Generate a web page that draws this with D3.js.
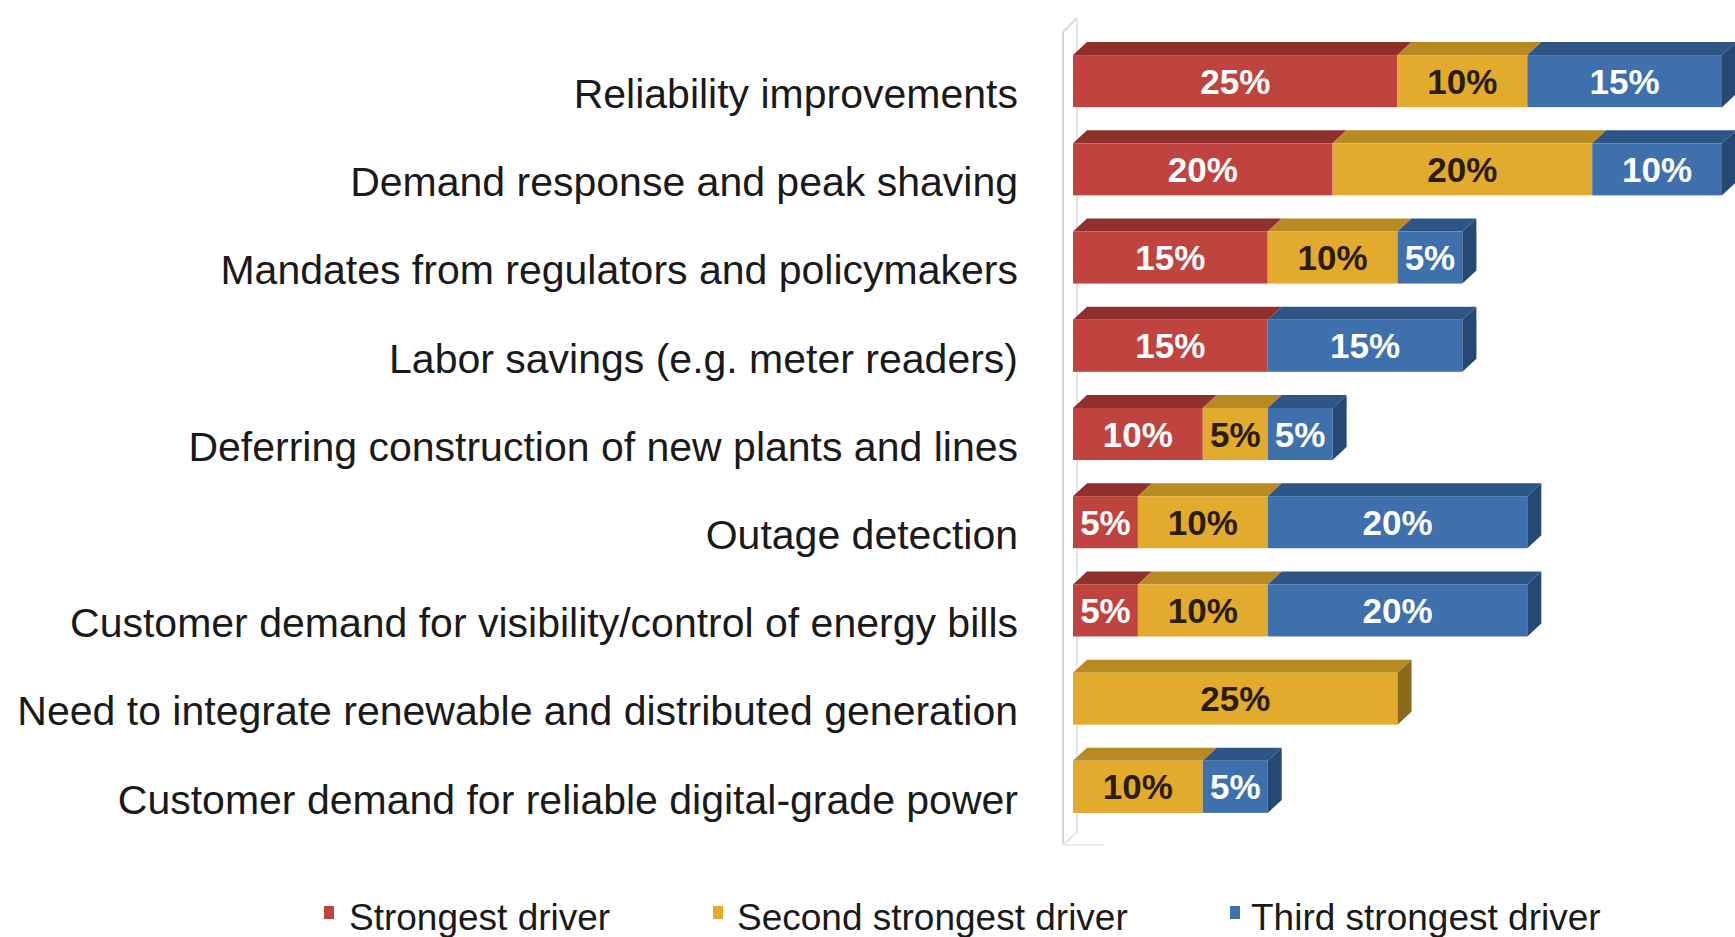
<!DOCTYPE html>
<html>
<head>
<meta charset="utf-8">
<script src="https://cdn.jsdelivr.net/npm/d3@7"></script>
<style>
  html, body { margin: 0; padding: 0; background: #fff; }
  svg { display: block; }
  text { font-family: "Liberation Sans", Arial, Helvetica, sans-serif; }
</style>
</head>
<body>
<svg id="chart" width="1735" height="937"></svg>
<script>
// Drivers of smart-grid investment, share of respondents per rank
const categories = [
  "Reliability improvements",
  "Demand response and peak shaving",
  "Mandates from regulators and policymakers",
  "Labor savings (e.g. meter readers)",
  "Deferring construction of new plants and lines",
  "Outage detection",
  "Customer demand for visibility/control of energy bills",
  "Need to integrate renewable and distributed generation",
  "Customer demand for reliable digital-grade power"
];
const strongest = [25, 20, 15, 15, 10, 5, 5, 0, 0];
const second    = [10, 20, 10, 0, 5, 10, 10, 25, 10];
const third     = [15, 10, 5, 15, 5, 20, 20, 0, 5];

const seriesNames = ["Strongest driver", "Second strongest driver", "Third strongest driver"];
const seriesKeys = ["strongest", "second", "third"];

const rows = categories.map((c, i) => ({
  category: c,
  strongest: strongest[i],
  second: second[i],
  third: third[i]
}));

const palette = {
  strongest: { front: "#bf4440", top: "#8f302c", side: "#7a2825", label: "#ffffff" },
  second:    { front: "#e2ab2d", top: "#b88b22", side: "#8a6a1a", label: "#2a1c05" },
  third:     { front: "#3e70ad", top: "#2d5686", side: "#254974", label: "#ffffff" }
};

const svg = d3.select("#chart");
svg.append("rect").attr("width", 1735).attr("height", 937).attr("fill", "#ffffff");

// Layout
const depthX = 14, depthY = 13;
const x = d3.scaleLinear().domain([0, 50]).range([1073, 1722]);
const y = d3.scaleBand().domain(categories).range([37, 831]).paddingInner(0.41).paddingOuter(0.205);

// Back wall of the 3D plot area
const wall = svg.append("g").attr("fill", "none").attr("stroke", "#d6d6d6").attr("stroke-width", 2);
const wx = x(0) - 10;
wall.append("path").attr("d", `M${wx},${32} L${wx},${845}`);
wall.append("path").attr("d", `M${wx + depthX},${18} L${wx + depthX},${832}`).attr("stroke", "#e6e6e6");
wall.append("path").attr("d", `M${wx},${32} L${wx + depthX},${18}`);
wall.append("path").attr("d", `M${wx},${845} L${wx + depthX},${832}`).attr("stroke", "#e6e6e6");
wall.append("path").attr("d", `M${wx},${845} L${wx + 40},${845}`).attr("stroke", "#ececec");

// Stacked segments
const stack = d3.stack().keys(seriesKeys);
const layers = stack(rows);

const bars = svg.append("g");
rows.forEach((row, i) => {
  const y0 = y(row.category), y1 = y0 + y.bandwidth();
  const segs = layers.map(layer => ({ key: layer.key, v: layer[i][1] - layer[i][0], a: layer[i][0], b: layer[i][1] }))
                     .filter(s => s.v > 0);
  const g = bars.append("g");
  segs.forEach((s, k) => {
    const c = palette[s.key];
    const xa = x(s.a), xb = x(s.b);
    // top face
    g.append("path")
      .attr("d", `M${xa},${y0} L${xb},${y0} L${xb + depthX},${y0 - depthY} L${xa + depthX},${y0 - depthY} Z`)
      .attr("fill", c.top);
    // front face
    g.append("rect")
      .attr("x", xa).attr("y", y0)
      .attr("width", xb - xa).attr("height", y1 - y0)
      .attr("fill", c.front);
    // right side face on the last segment
    if (k === segs.length - 1) {
      g.append("path")
        .attr("d", `M${xb},${y0} L${xb + depthX},${y0 - depthY} L${xb + depthX},${y1 - depthY} L${xb},${y1} Z`)
        .attr("fill", c.side);
    }
    g.append("text")
      .attr("x", (xa + xb) / 2)
      .attr("y", (y0 + y1) / 2)
      .attr("dy", "0.36em")
      .attr("text-anchor", "middle")
      .attr("font-size", 35)
      .attr("font-weight", "bold")
      .attr("fill", c.label)
      .text(s.v + "%");
  });
});

// Category labels
svg.append("g").selectAll("text")
  .data(categories)
  .join("text")
  .attr("x", 1018)
  .attr("y", d => y(d) + y.bandwidth() / 2 + 12)
  .attr("dy", "0.36em")
  .attr("text-anchor", "end")
  .attr("font-size", 41)
  .attr("fill", "#1a1a1a")
  .text(d => d);

// Legend
const legendPos = [
  { mx: 324, tx: 349 },
  { mx: 713, tx: 737 },
  { mx: 1230, tx: 1251 }
];
const legend = svg.append("g");
seriesKeys.forEach((k, i) => {
  legend.append("rect")
    .attr("x", legendPos[i].mx).attr("y", 906)
    .attr("width", 10).attr("height", 13)
    .attr("fill", palette[k].front);
  legend.append("text")
    .attr("x", legendPos[i].tx).attr("y", 917)
    .attr("dy", "0.36em")
    .attr("font-size", 37)
    .attr("fill", "#1a1a1a")
    .text(seriesNames[i]);
});
</script>
</body>
</html>
